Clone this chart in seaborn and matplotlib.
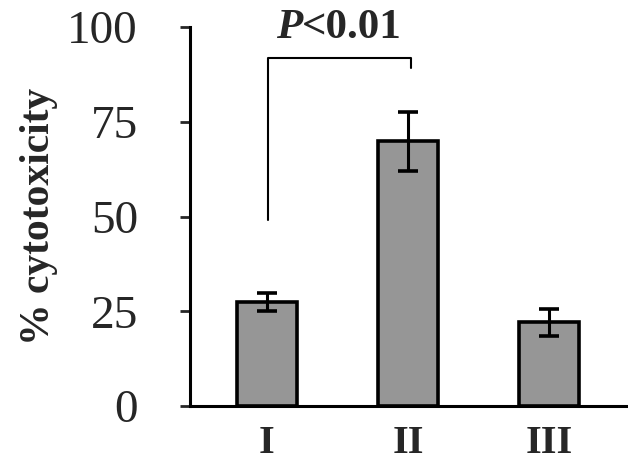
import matplotlib
matplotlib.use("Agg")
import matplotlib.pyplot as plt
import seaborn as sns
import pandas as pd

# data
groups = ["I", "II", "III"]
cytotoxicity = [27.4, 69.8, 22.1]
sem = [2.3, 7.9, 3.6]
yticks = [0, 25, 50, 75, 100]

df = pd.DataFrame({"group": groups, "value": cytotoxicity})

sns.set_style("white")
plt.rcParams["font.family"] = ["Liberation Serif", "DejaVu Serif"]

fig = plt.figure(figsize=(6.28, 4.63), dpi=100)
ax = fig.add_axes([0.3025, 0.123, 0.6975, 0.8187])

sns.barplot(data=df, x="group", y="value", color="#969696", saturation=1,
            width=0.42, edgecolor="black", linewidth=2.6, errorbar=None, ax=ax)
ax.errorbar(range(len(groups)), cytotoxicity, yerr=sem, fmt="none",
            ecolor="black", elinewidth=2.2, capsize=7, capthick=2.6)

ax.set_xlim(-0.546, 2.56)
ax.set_ylim(0, 100)
ax.set_yticks(yticks)
ax.set_yticklabels([str(t) for t in yticks], fontsize=34)
ax.tick_params(axis="y", direction="out", length=7.5, width=2, pad=30, left=True)
ax.tick_params(axis="x", length=0, pad=14)
for lab in ax.get_xticklabels():
    lab.set_fontsize(29)
    lab.set_fontweight("bold")

ax.set_xlabel("")
ax.set_ylabel("% cytotoxicity", fontsize=30, fontweight="bold", labelpad=7)

for side in ["top", "right"]:
    ax.spines[side].set_visible(False)
for side in ["left", "bottom"]:
    ax.spines[side].set_linewidth(2.2)
    ax.spines[side].set_color("black")

# significance bracket
ax.plot([0.005, 0.005, 1.02, 1.02], [49, 91.8, 91.8, 89.3], color="black",
        lw=1.5, clip_on=False)
ax.text(0.25, 99.8, "P", fontsize=31, fontweight="bold", style="italic",
        ha="right", va="center", clip_on=False)
ax.text(0.25, 99.8, "<0.01", fontsize=31, fontweight="bold",
        ha="left", va="center", clip_on=False)

fig.savefig("out.png", dpi=100)
